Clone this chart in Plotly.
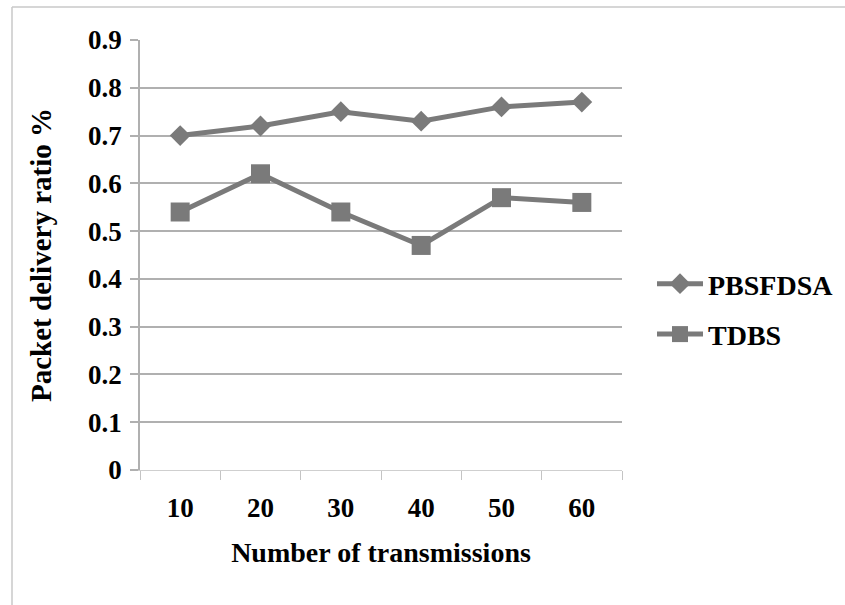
import plotly.graph_objects as go

# Number of transmissions (category labels)
transmissions = ["10", "20", "30", "40", "50", "60"]
# Packet delivery ratio for each scheme
pbsfdsa = [0.70, 0.72, 0.75, 0.73, 0.76, 0.77]
tdbs = [0.54, 0.62, 0.54, 0.47, 0.57, 0.56]
y_ticks = [0, 0.1, 0.2, 0.3, 0.4, 0.5, 0.6, 0.7, 0.8, 0.9]
y_tick_labels = ["0", "0.1", "0.2", "0.3", "0.4", "0.5", "0.6", "0.7", "0.8", "0.9"]

SERIES_COLOR = "#7a7a7a"
FONT = "Liberation Serif, Times New Roman, serif"

fig = go.Figure()
fig.add_trace(go.Scatter(
    x=transmissions, y=pbsfdsa, name="PBSFDSA", mode="lines+markers",
    line=dict(color=SERIES_COLOR, width=5),
    marker=dict(symbol="diamond", size=16, color=SERIES_COLOR),
    legendgroup="a",
))
fig.add_trace(go.Scatter(
    x=transmissions, y=tdbs, name="TDBS", mode="lines+markers",
    line=dict(color=SERIES_COLOR, width=5),
    marker=dict(symbol="square", size=19, color=SERIES_COLOR),
    legendgroup="b",
))

W, H = 845, 605
L, R, T, B = 140, 223, 40, 135
pw, ph = W - L - R, H - T - B

def px_to_paper_x(px):
    return (px - L) / pw

def px_to_paper_y(py):
    return (H - B - py) / ph

fig.update_layout(
    width=W, height=H,
    margin=dict(l=L, r=R, t=T, b=B, pad=0, autoexpand=False),
    paper_bgcolor="white", plot_bgcolor="white",
    font=dict(family=FONT, color="black"),
    showlegend=True,
    legend=dict(
        x=px_to_paper_x(652), y=px_to_paper_y(309),
        xanchor="left", yanchor="middle",
        font=dict(family=FONT, size=28, weight="bold"),
        itemwidth=46, tracegroupgap=11,
        bgcolor="rgba(0,0,0,0)",
    ),
    xaxis=dict(
        type="category",
        tickson="boundaries",
        ticks="outside", ticklen=9, tickcolor="#c4c4c4", tickwidth=1.2,
        showgrid=False,
        showline=True, linecolor="#cfcfcf", linewidth=1.2,
        tickfont=dict(family=FONT, size=27, weight="bold"),
        ticklabelstandoff=13,
        title=dict(text="Number of transmissions",
                   font=dict(family=FONT, size=28, weight="bold"),
                   standoff=20),
        range=[-0.5, 5.5],
    ),
    yaxis=dict(
        range=[0, 0.9],
        tickvals=y_ticks, ticktext=y_tick_labels,
        ticks="outside", ticklen=8, tickcolor="#b0b0b0", tickwidth=1.5,
        showgrid=True, gridcolor="#b0b0b0", gridwidth=1.5,
        showline=True, linecolor="#b0b0b0", linewidth=1.5,
        zeroline=False,
        tickfont=dict(family=FONT, size=27, weight="bold"),
        ticklabelstandoff=3,
        title=dict(text="Packet delivery ratio %",
                   font=dict(family=FONT, size=29, weight="bold"),
                   standoff=28),
    ),
)

# Chart frame (top and left edges)
frame_color = "#c8c8c8"
fig.add_shape(type="line", xref="paper", yref="paper",
              x0=px_to_paper_x(12), x1=px_to_paper_x(W),
              y0=px_to_paper_y(7), y1=px_to_paper_y(7),
              line=dict(color=frame_color, width=1.5))
fig.add_shape(type="line", xref="paper", yref="paper",
              x0=px_to_paper_x(12), x1=px_to_paper_x(12),
              y0=px_to_paper_y(7), y1=px_to_paper_y(H),
              line=dict(color=frame_color, width=1.5))

fig.write_html("out.html", config={"displayModeBar": False})
